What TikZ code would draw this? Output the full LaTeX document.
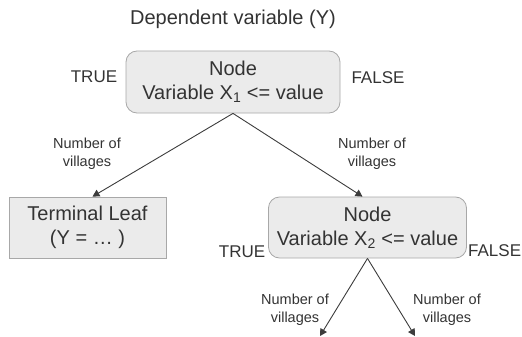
\documentclass[tikz,border=0pt]{standalone}
\usepackage{fontspec}
\setmainfont{Liberation Sans}
\usetikzlibrary{arrows.meta}
\definecolor{txt}{HTML}{333333}
\definecolor{boxfill}{HTML}{EBEBEB}
\definecolor{boxline}{HTML}{A8A8A8}
\definecolor{edge}{HTML}{3C3C3C}
\tikzset{
  big/.style={font=\fontsize{20}{24}\selectfont, text=txt, align=center},
  dec/.style={big, draw=boxline, fill=boxfill, rounded corners=11pt, line width=0.8pt, inner sep=0pt},
  leafbox/.style={big, draw=boxline, fill=boxfill, line width=0.8pt, inner sep=0pt},
  tf/.style={font=\fontsize{17}{20}\selectfont, text=txt, inner sep=0pt},
  lab/.style={font=\fontsize{14.5}{18}\selectfont, text=txt, align=center, inner sep=0pt},
  conn/.style={draw=edge, line width=0.9pt, -{Triangle[length=7pt,width=7.5pt]}}
}
\begin{document}
\begin{tikzpicture}[x=1pt,y=-1pt]
\useasboundingbox (0,0) rectangle (522,337);
\node[big, inner sep=0pt] (title) at (233,19) {Dependent variable (Y)};
\node[dec, minimum width=214pt, minimum height=62pt] (n1) at (233,82) {Node\\Variable X\textsubscript{1} <= value};
\node[tf] (t1) at (94,77) {TRUE};
\node[tf] (f1) at (378,78) {FALSE};
\node[leafbox, minimum width=157pt, minimum height=61pt] (leaf) at (87.5,227.5) {Terminal Leaf\\(Y = … )};
\node[dec, minimum width=198pt, minimum height=61pt] (n2) at (367.5,227.5) {Node\\Variable X\textsubscript{2} <= value};
\node[tf] (t2) at (242,252) {TRUE};
\node[tf, anchor=west] (f2) at (468,251) {FALSE};
\node[lab] (l1) at (87,154) {Number of\\villages};
\node[lab] (l2) at (372,154) {Number of\\villages};
\node[lab] (l3) at (295,310) {Number of\\villages};
\node[lab] (l4) at (447,310) {Number of\\villages};
\coordinate (e1) at (320,336);
\coordinate (e2) at (415,336);
\draw[conn] (n1.south) -- ([xshift=5pt]leaf.north);
\draw[conn] (n1.south) -- ([xshift=-5pt]n2.north);
\draw[conn] (n2.south) -- (e1);
\draw[conn] (n2.south) -- (e2);
\end{tikzpicture}
\end{document}
